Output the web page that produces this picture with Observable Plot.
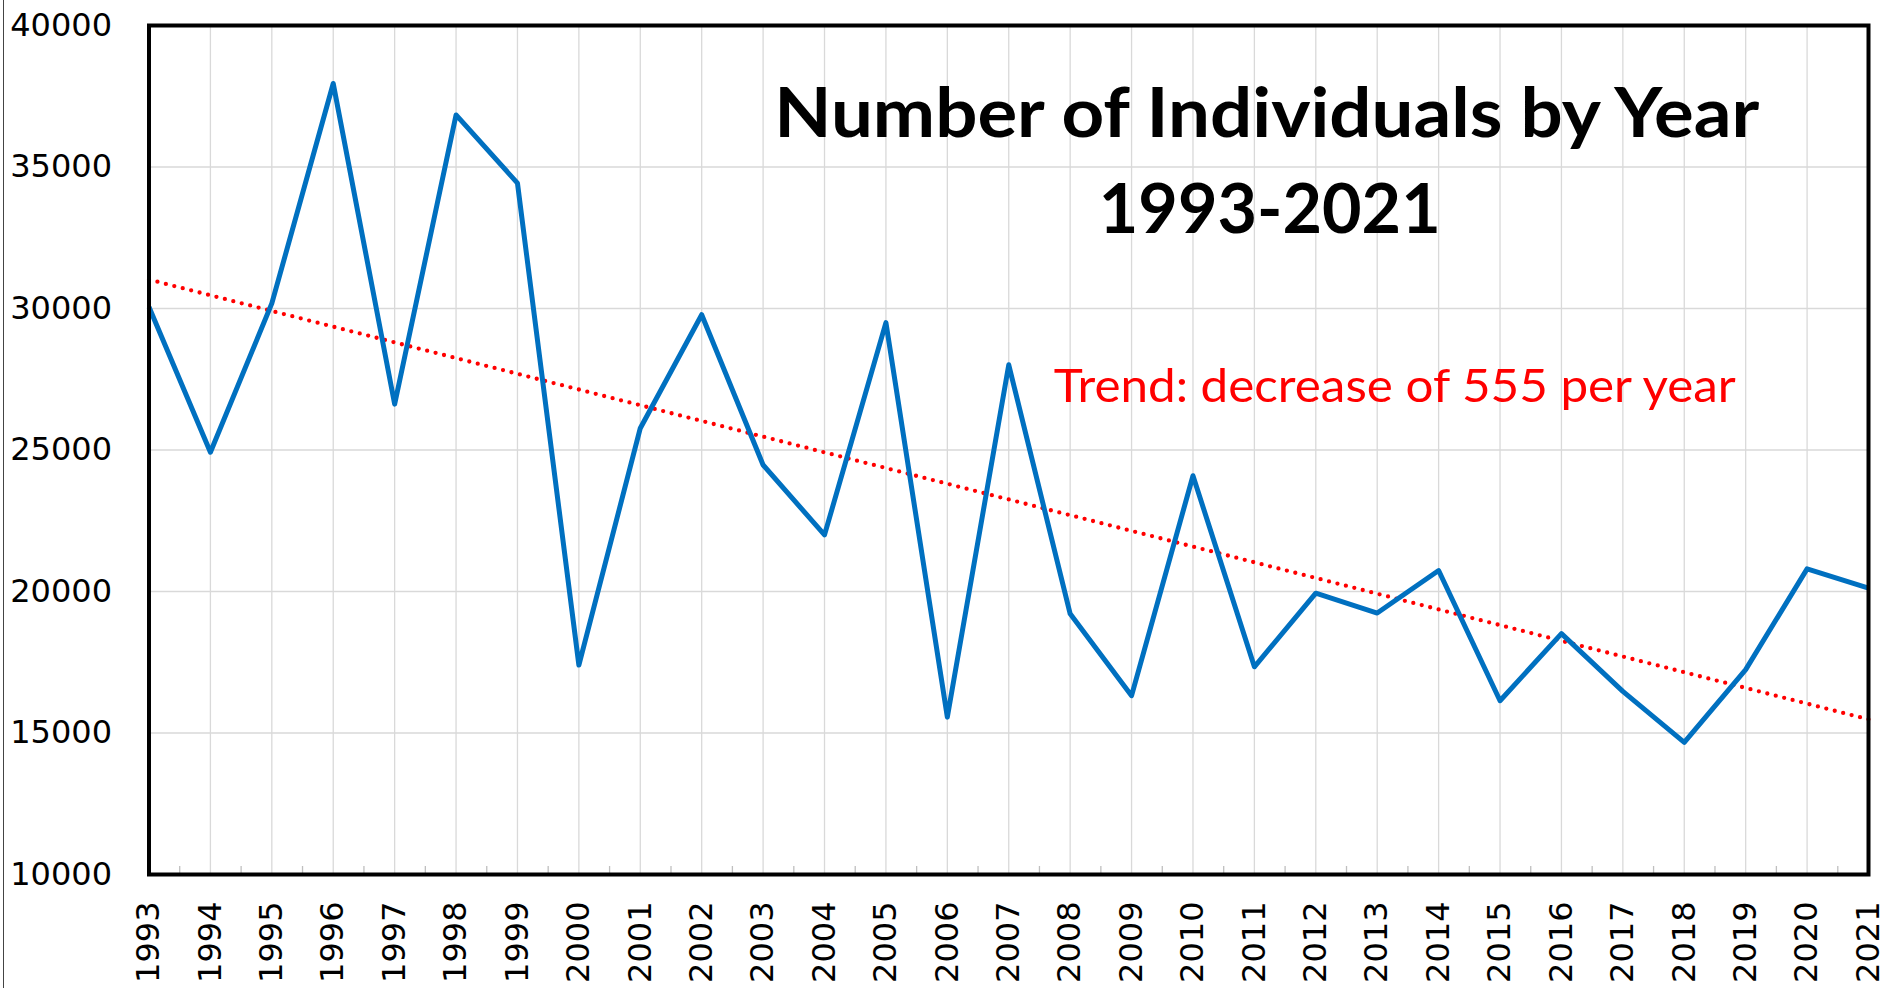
<!DOCTYPE html>
<html>
<head>
<meta charset="utf-8">
<script src="https://cdn.jsdelivr.net/npm/d3@7"></script>
<script src="https://cdn.jsdelivr.net/npm/@observablehq/plot@0.6"></script>
<style>
  html, body { margin: 0; padding: 0; background: #ffffff; }
  #wrap { position: relative; width: 1891px; height: 988px; overflow: hidden; background: #ffffff; }
  #edge { position: absolute; left: 3px; top: 0; width: 0; height: 988px; border-left: 1px solid #444; }
</style>
</head>
<body>
<div id="wrap"><div id="edge"></div></div>
<script>
// ---- data ----
const years = [1993, 1994, 1995, 1996, 1997, 1998, 1999, 2000, 2001, 2002,
               2003, 2004, 2005, 2006, 2007, 2008, 2009, 2010, 2011, 2012,
               2013, 2014, 2015, 2016, 2017, 2018, 2019, 2020, 2021];
const individuals = [30050, 24920, 30180, 37950, 26620, 36840, 34430, 17400, 25770, 29780,
                     24470, 22000, 29500, 15560, 28010, 19210, 16320, 24090, 17340, 19940,
                     19240, 20740, 16140, 18510, 16470, 14670, 17240, 20800, 20120];
const yTicks = [10000, 15000, 20000, 25000, 30000, 35000, 40000];
const halfYearTicks = [1993.5, 1994.5, 1995.5, 1996.5, 1997.5, 1998.5, 1999.5, 2000.5, 2001.5, 2002.5,
                       2003.5, 2004.5, 2005.5, 2006.5, 2007.5, 2008.5, 2009.5, 2010.5, 2011.5, 2012.5,
                       2013.5, 2014.5, 2015.5, 2016.5, 2017.5, 2018.5, 2019.5, 2020.5];
const titleLine1 = "Number of Individuals by Year";
const titleLine2 = "1993-2021";
const trendLabel = "Trend: decrease of 555 per year";

const data = years.map((year, i) => ({year, value: individuals[i]}));

const chart = Plot.plot({
  width: 1891,
  height: 988,
  marginTop: 25,
  marginBottom: 114,
  marginLeft: 148.5,
  marginRight: 23,
  style: {fontFamily: "'DejaVu Sans', sans-serif", fontSize: "32px", color: "#000", background: "#fff", overflow: "visible"},
  x: {domain: [1993, 2021]},
  y: {domain: [10000, 40000]},
  marks: [
    Plot.gridX(years, {stroke: "#d9d9d9", strokeOpacity: 1, strokeWidth: 1.3}),
    Plot.gridY(yTicks, {stroke: "#d9d9d9", strokeOpacity: 1, strokeWidth: 1.3}),
    Plot.axisX({ticks: halfYearTicks, tickSize: 8, dy: -8, tickFormat: () => "", stroke: "#bfbfbf", strokeWidth: 1.3, label: null}),
    Plot.axisX({ticks: years, tickSize: 0, tickPadding: 27, tickRotate: -90, tickFormat: d3.format("d"), fontSize: 32, fill: "#000", label: null}),
    Plot.axisY({ticks: yTicks, tickSize: 0, tickPadding: 37, tickFormat: d3.format("d"), fontSize: 32, fill: "#000", label: null}),
    Plot.linearRegressionY(data, {x: "year", y: "value", ci: 0, stroke: "#ff0000", strokeWidth: 4.3, strokeDasharray: "0 8.7", strokeLinecap: "round"}),
    Plot.line(data, {x: "year", y: "value", stroke: "#0070C0", strokeWidth: 5, strokeLinejoin: "round", strokeLinecap: "butt"}),
    Plot.frame({stroke: "#000", strokeWidth: 4}),
    Plot.text([titleLine1], {text: d => d, frameAnchor: "top", lineAnchor: "bottom", textAnchor: "middle", dx: 258, dy: 111,
      fontFamily: "Lato", fontWeight: "bold", fontSize: 69, fill: "#000", className: "t-title1"}),
    Plot.text([titleLine2], {text: d => d, frameAnchor: "top", lineAnchor: "bottom", textAnchor: "middle", dx: 261, dy: 207.7,
      fontFamily: "Lato", fontWeight: "bold", fontSize: 69, fill: "#000", className: "t-title2"}),
    Plot.text([trendLabel], {text: d => d, frameAnchor: "top", lineAnchor: "bottom", textAnchor: "middle", dx: 386, dy: 376.7,
      fontFamily: "Lato", fontSize: 47, fill: "#ff0000", className: "t-trend"})
  ]
});

document.getElementById("wrap").appendChild(chart);

// fit annotation widths to the reference lengths
const fits = [["t-title1", 985], ["t-title2", 342], ["t-trend", 682]];
for (const [cls, len] of fits) {
  chart.querySelectorAll("." + cls + " text").forEach(t => {
    t.setAttribute("textLength", len);
    t.setAttribute("lengthAdjust", "spacingAndGlyphs");
  });
}
</script>
</body>
</html>
